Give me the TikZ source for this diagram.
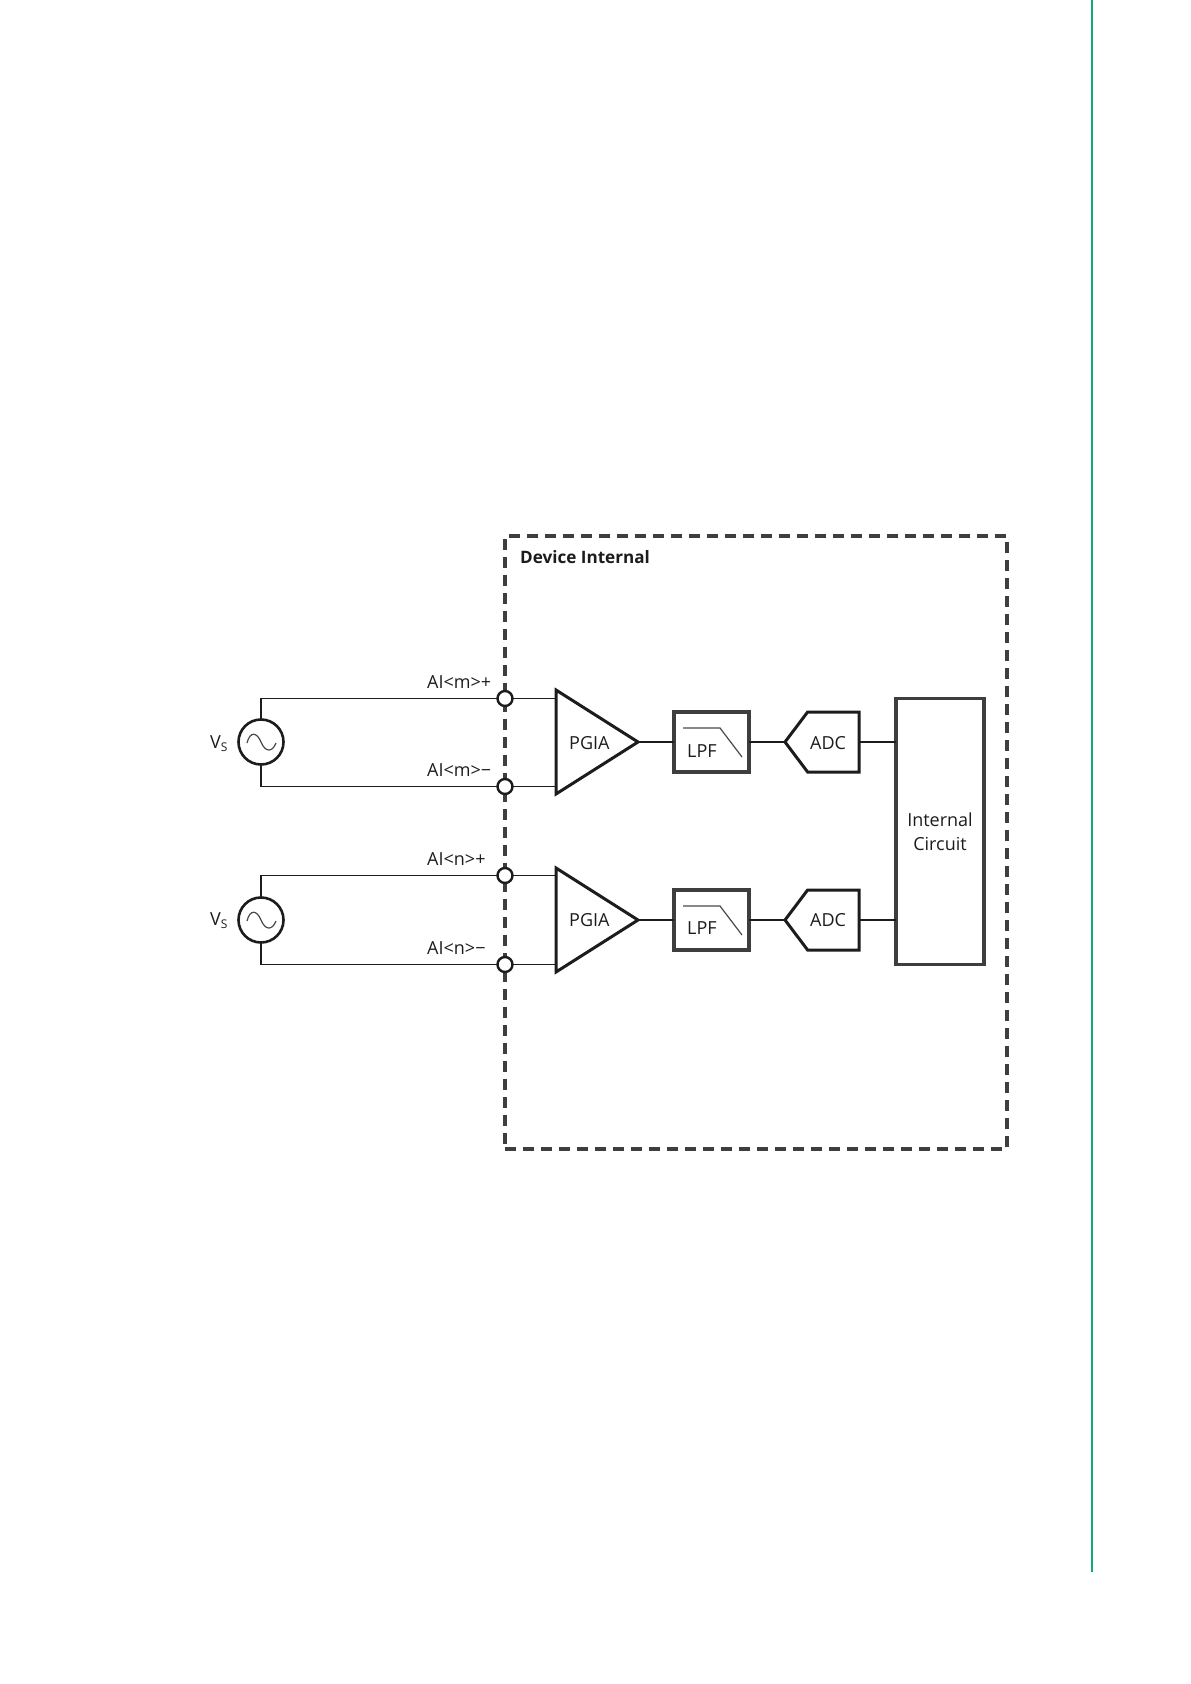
\documentclass[tikz,border=0pt]{standalone}
\usepackage{fontspec}
\setmainfont{Open Sans}
\usepackage{xcolor}
\usetikzlibrary{calc,positioning,shapes.geometric,shapes.symbols}
\definecolor{ink}{RGB}{28,28,28}
\definecolor{softink}{RGB}{62,62,62}
\definecolor{sidegreen}{RGB}{20,170,120}
\tikzset{
  wire/.style={line width=1.3pt,draw=ink},
  thin wave/.style={line width=1.2pt,draw=ink!80},
  frame/.style={draw=softink,line width=3.1pt,dash pattern=on 11pt off 7pt},
  block/.style={draw=softink,line width=3.1pt,inner sep=0pt,outer sep=0pt,align=center,font=\lbl,text=ink},
  amp/.style={block,draw=ink,line width=3pt,isosceles triangle,isosceles triangle stretches,shape border rotate=0,minimum width=104pt,minimum height=82pt},
  adcbox/.style={block,draw=ink,line width=3pt,signal,signal to=west,signal pointer angle=106,minimum width=74pt,minimum height=60pt},
  source/.style={draw=ink,line width=2.6pt,circle,minimum size=45pt,inner sep=0pt,outer sep=0pt},
  term/.style={draw=ink,line width=2.4pt,circle,fill=white,minimum size=15pt,inner sep=0pt,outer sep=0pt},
  tag/.style={anchor=west,inner sep=0pt,text=ink,font=\lbl}
}
\newcommand{\lbl}{\fontsize{18}{24.5}\selectfont}
\newcommand{\subs}{\fontsize{12}{12}\selectfont}
\begin{document}
\begin{tikzpicture}[x=1pt,y=-1pt,node distance=36pt and 36pt]
  \useasboundingbox (0,0) rectangle (1191,1684);
  \draw[line width=1.6pt,draw=sidegreen] (1092,0) -- (1092,1572);
  \node[frame,minimum width=502pt,minimum height=613pt,inner sep=0pt] (internal) at (756,842.5) {};
  \node[tag,font=\fontsize{17.1}{22}\selectfont\bfseries] (title) at (520,557) {Device Internal};
  % first channel
  \node[term] (termap) at (505,698.5) {};
  \node[term] (taman) at (505,786.5) {};
  \node[source] (vsa) at (261,742) {};
  \node[amp,anchor=apex] (pgiaa) at (638,742) {};
  \node[block,right=36pt of pgiaa.apex,minimum width=75pt,minimum height=60pt] (lpfa) {};
  \node[adcbox,right=36pt of lpfa] (adca) {};
  % second channel
  \node[term] (termbp) at (505,875.5) {};
  \node[term] (termbn) at (505,964.5) {};
  \node[source] (vsb) at (261,920) {};
  \node[amp,anchor=apex] (pgiab) at (638,920) {};
  \node[block,right=36pt of pgiab.apex,minimum width=75pt,minimum height=60pt] (lpfb) {};
  \node[adcbox,right=36pt of lpfb] (adcb) {};
  \node[block,minimum width=88pt,minimum height=266pt] (circuit) at (940,831.5) {Internal\\Circuit};
  % texts of the blocks
  \node[tag] (pgatexta) at (569,743) {PGIA};
  \node[tag] (pgatextb) at (569,920) {PGIA};
  \node[tag] (lpftexta) at (687,751) {LPF};
  \node[tag] (lpftextb) at (687,928) {LPF};
  \node[tag] (adctexta) at (810,743) {ADC};
  \node[tag] (adctextb) at (810,920) {ADC};
  \node[tag] (vsalabel) at (210,744) {V{\subs\raisebox{-3pt}{S}}};
  \node[tag] (vsblabel) at (210,921) {V{\subs\raisebox{-3pt}{S}}};
  \node[tag] (labap) at (427,682) {AI<m>+};
  \node[tag] (laban) at (427,770) {AI<m>−};
  \node[tag] (labbp) at (427,859) {AI<n>+};
  \node[tag] (labbn) at (427,948) {AI<n>−};
  % wires
  \draw[wire] (vsa.north) |- (termap.west); \draw[wire] (vsa.south) |- (taman.west);
  \draw[wire] (termap.east) -- (termap.east -| pgiaa.lower side); \draw[wire] (taman.east) -- (taman.east -| pgiaa.lower side);
  \draw[wire] (pgiaa.apex) -- (lpfa.west); \draw[wire] (lpfa.east) -- (adca.west); \draw[wire] (adca.east) -- (adca.east -| circuit.west);
  \draw[wire] (vsb.north) |- (termbp.west); \draw[wire] (vsb.south) |- (termbn.west);
  \draw[wire] (termbp.east) -- (termbp.east -| pgiab.lower side); \draw[wire] (termbn.east) -- (termbn.east -| pgiab.lower side);
  \draw[wire] (pgiab.apex) -- (lpfb.west); \draw[wire] (lpfb.east) -- (adcb.west); \draw[wire] (adcb.east) -- (adcb.east -| circuit.west);
  % sine waves and filter curves
  \draw[thin wave,shift={(vsa.center)}] (-14,1) .. controls (-11,-11) and (-4,-10) .. (0,0) .. controls (4,10) and (11,11) .. (15,1);
  \draw[thin wave,shift={(vsb.center)}] (-14,1) .. controls (-11,-11) and (-4,-10) .. (0,0) .. controls (4,10) and (11,11) .. (15,1);
  \draw[thin wave] ($(lpfa.center)+(-28.5,-14)$) -- ++(37,0) -- ++(22,29);
  \draw[thin wave] ($(lpfb.center)+(-28.5,-14)$) -- ++(37,0) -- ++(22,29);
\end{tikzpicture}
\end{document}
